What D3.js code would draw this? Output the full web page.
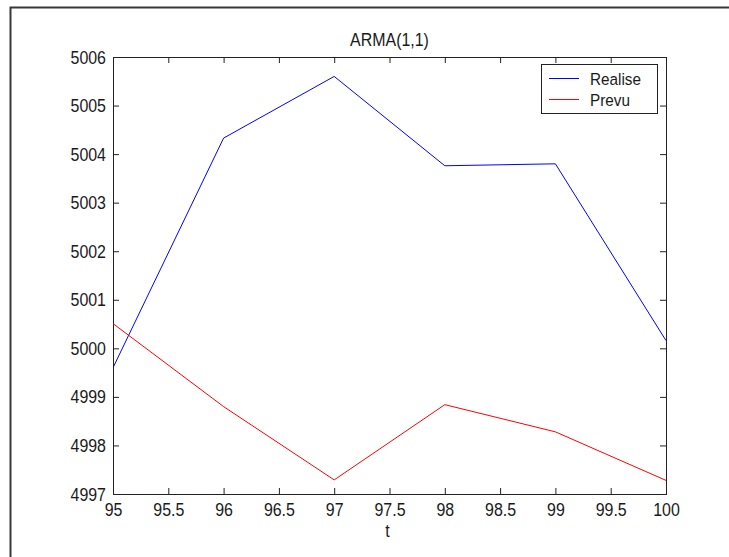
<!DOCTYPE html>
<html>
<head>
<meta charset="utf-8">
<script src="https://cdn.jsdelivr.net/npm/d3@7/dist/d3.min.js"></script>
<style>
  html, body { margin: 0; padding: 0; background: #fff; }
  svg { display: block; }
  text { font-family: "Liberation Sans", Arial, sans-serif; fill: #1a1a1a; }
</style>
</head>
<body>
<svg id="chart" width="729" height="557"></svg>
<script>
// ---- data ----
const t = [95, 96, 97, 98, 99, 100];
const realise = [4999.60, 5004.33, 5005.60, 5003.76, 5003.80, 5000.16];
const prevu = [5000.51, 4998.80, 4997.29, 4998.84, 4998.28, 4997.28];
const xTicks = [95, 95.5, 96, 96.5, 97, 97.5, 98, 98.5, 99, 99.5, 100];
const yTicks = [4997, 4998, 4999, 5000, 5001, 5002, 5003, 5004, 5005, 5006];
const seriesNames = ["Realise", "Prevu"];
const seriesColors = ["#0000ff", "#ff0000"];
const titleText = "ARMA(1,1)";
const xLabelText = "t";

// ---- layout ----
const W = 729, H = 557;
const plot = { left: 113, right: 666, top: 57, bottom: 494 };
const SX = 0.84; // horizontal condensing of the screen font
const FS = 19;

const svg = d3.select("#chart");

// figure border (left and top visible)
svg.append("path")
  .attr("d", `M10.5,${H} L10.5,7.5 L${W},7.5`)
  .attr("fill", "none").attr("stroke", "#383838").attr("stroke-width", 2);

const x = d3.scaleLinear().domain([95, 100]).range([plot.left, plot.right]);
const y = d3.scaleLinear().domain([4997, 5006]).range([plot.bottom, plot.top]);

const axisColor = "#222";
const tickLen = 6;

function styleAxis(g) {
  g.selectAll("path.domain").remove();
  g.selectAll("line").attr("stroke", axisColor);
}

// bottom axis
const gB = svg.append("g").attr("transform", `translate(0,${plot.bottom})`)
  .call(d3.axisBottom(x).tickValues(xTicks).tickSizeInner(-tickLen).tickSizeOuter(0)
    .tickFormat(d => String(d)));
styleAxis(gB);
gB.selectAll("text")
  .attr("dy", null).attr("y", 22)
  .attr("transform", `scale(${SX},1)`)
  .attr("font-size", FS).attr("font-family", "Liberation Sans, Arial, sans-serif")
  .attr("fill", "#1a1a1a");

// top axis (ticks only)
const gT = svg.append("g").attr("transform", `translate(0,${plot.top})`)
  .call(d3.axisTop(x).tickValues(xTicks).tickSizeInner(-tickLen).tickSizeOuter(0).tickFormat(""));
styleAxis(gT);

// left axis
const gL = svg.append("g").attr("transform", `translate(${plot.left},0)`)
  .call(d3.axisLeft(y).tickValues(yTicks).tickSizeInner(-tickLen).tickSizeOuter(0)
    .tickFormat(d3.format("d")));
styleAxis(gL);
gL.selectAll("text")
  .attr("x", -7 / SX)
  .attr("transform", `scale(${SX},1)`)
  .attr("font-size", FS).attr("font-family", "Liberation Sans, Arial, sans-serif")
  .attr("fill", "#1a1a1a");

// right axis (ticks only)
const gR = svg.append("g").attr("transform", `translate(${plot.right},0)`)
  .call(d3.axisRight(y).tickValues(yTicks).tickSizeInner(-tickLen).tickSizeOuter(0).tickFormat(""));
styleAxis(gR);

// box
svg.append("rect")
  .attr("x", plot.left + 0.5).attr("y", plot.top + 0.5)
  .attr("width", plot.right - plot.left).attr("height", plot.bottom - plot.top)
  .attr("fill", "none").attr("stroke", axisColor).attr("stroke-width", 1);

// clip
svg.append("clipPath").attr("id", "clip").append("rect")
  .attr("x", plot.left).attr("y", plot.top)
  .attr("width", plot.right - plot.left + 1).attr("height", plot.bottom - plot.top + 1);

const line = d3.line().x((d, i) => x(t[i])).y(d => y(d));
[realise, prevu].forEach((s, k) => {
  svg.append("path").datum(s)
    .attr("d", line)
    .attr("fill", "none")
    .attr("stroke", seriesColors[k])
    .attr("stroke-width", 1)
    .attr("clip-path", "url(#clip)");
});

// title
svg.append("text")
  .attr("transform", `translate(${(plot.left + plot.right) / 2},46) scale(${SX},1)`)
  .attr("text-anchor", "middle").attr("font-size", FS)
  .text(titleText);

// x label
svg.append("text")
  .attr("transform", `translate(${(plot.left + plot.right) / 2 - 2},537) scale(${SX},1)`)
  .attr("text-anchor", "middle").attr("font-size", FS)
  .text(xLabelText);

// legend
const lg = svg.append("g");
lg.append("rect")
  .attr("x", 541.5).attr("y", 64.5).attr("width", 116).attr("height", 49)
  .attr("fill", "#fff").attr("stroke", axisColor).attr("stroke-width", 1);
const legY = [78.5, 99.5];
seriesNames.forEach((name, k) => {
  lg.append("line")
    .attr("x1", 549).attr("x2", 579).attr("y1", legY[k]).attr("y2", legY[k])
    .attr("stroke", seriesColors[k]).attr("stroke-width", 1);
  lg.append("text")
    .attr("transform", `translate(590,${legY[k] + 6}) scale(0.9,1)`)
    .attr("font-size", 17)
    .text(name);
});
</script>
</body>
</html>
